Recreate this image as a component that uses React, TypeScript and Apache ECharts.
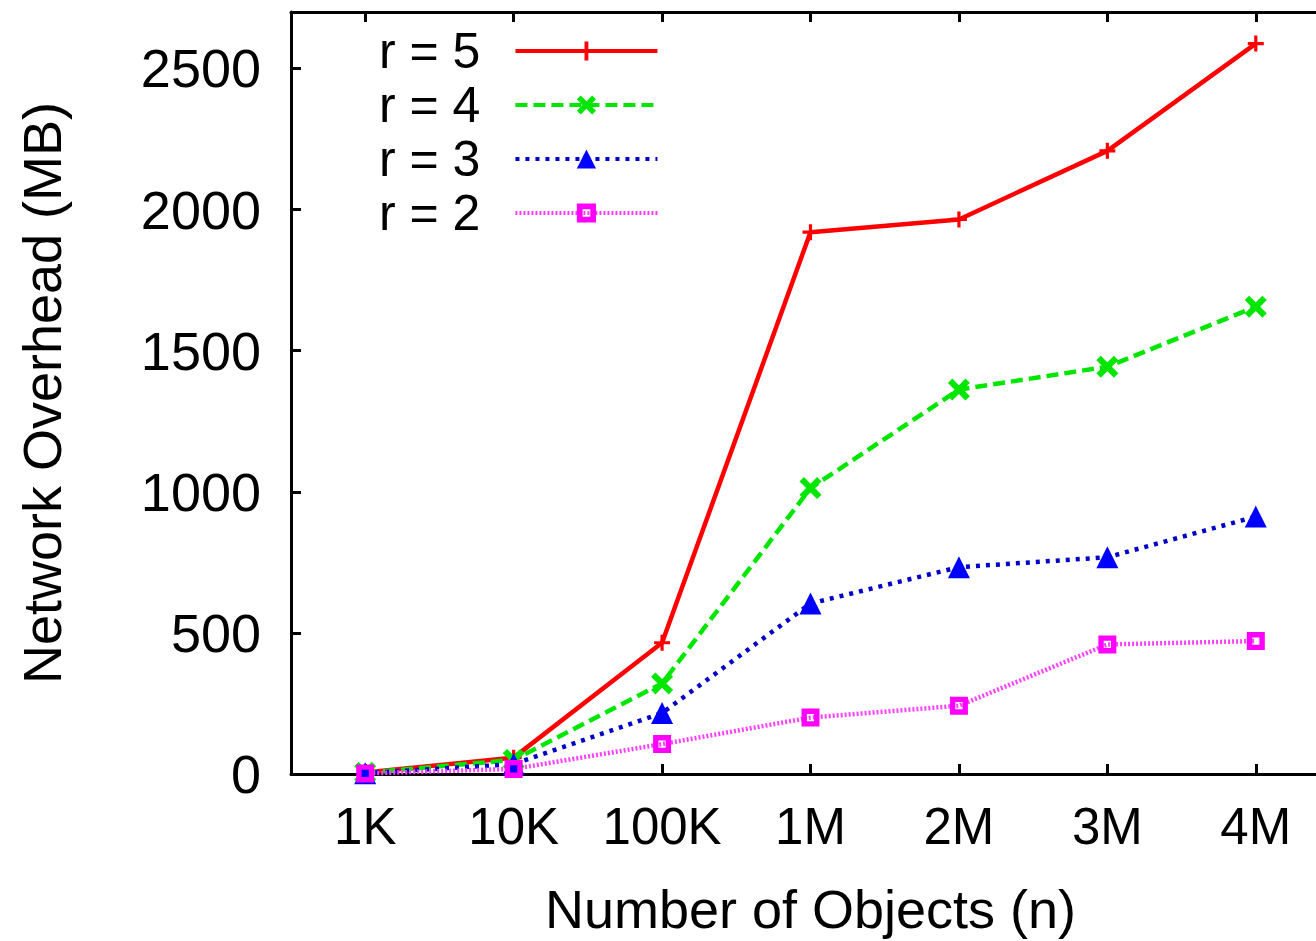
import React, { useEffect, useRef } from "react";
import * as echarts from "echarts";

const categories = ["1K", "10K", "100K", "1M", "2M", "3M", "4M"];
const seriesNames = ["r = 5", "r = 4", "r = 3", "r = 2"];
const r5 = [5, 58, 465, 1920, 1965, 2208, 2588];
const r4 = [4, 50, 321, 1013, 1362, 1443, 1656];
const r3 = [3, 35, 216, 604, 733, 768, 912];
const r2 = [2, 18, 106, 200, 242, 459, 471];
const yMin = 0;
const yMax = 2700;
const yInterval = 500;

const FONT = "Liberation Sans, Arial, Helvetica, sans-serif";

const plusPath = "path://M4,0H6V4H10V6H6V10H4V6H0V4H4Z";
const crossPath = "path://M0,2L2,0L5,3L8,0L10,2L7,5L10,8L8,10L5,7L2,10L0,8L3,5Z";
const squarePath = "path://M0,0H10V10H0Z M3,3V7H7V3Z";

export default function App() {
  const ref = useRef<HTMLDivElement>(null);
  useEffect(() => {
    if (!ref.current) return;
    const chart = echarts.init(ref.current, undefined, { renderer: "svg" });
    const axisLine = { show: true, lineStyle: { color: "#000", width: 3 } };
    const tick = { show: true, inside: true, length: 10, lineStyle: { color: "#000", width: 3 } };
    const mk = (name: string, data: number[], color: string, lineColor: string, type: any, width: number, symbol: string, size: number) => ({
      name,
      type: "line",
      data,
      xAxisIndex: 0,
      yAxisIndex: 0,
      symbol,
      symbolSize: size,
      itemStyle: { color },
      lineStyle: { color: lineColor, type, width },
      emphasis: { disabled: true },
    });
    chart.setOption({
      animation: false,
      backgroundColor: "#fff",
      textStyle: { fontFamily: FONT },
      grid: { left: 291, top: 12, right: 0, bottom: 163, containLabel: false },
      legend: {
        orient: "vertical",
        left: 374,
        top: 21,
        align: "right",
        itemWidth: 142,
        itemHeight: 24,
        itemGap: 4,
        data: seriesNames,
        lineStyle: { width: 4 },
        textStyle: { fontSize: 50, color: "#000", fontFamily: FONT, lineHeight: 49, padding: [0, 30, 0, 0] },
      },
      xAxis: [
        {
          type: "category",
          data: categories,
          position: "bottom",
          boundaryGap: true,
          axisLine,
          axisTick: { ...tick, alignWithLabel: true },
          axisLabel: { fontSize: 51, color: "#000", margin: 27, fontFamily: FONT, interval: 0, hideOverlap: false },
          splitLine: { show: false },
          name: "Number of Objects (n)",
          nameLocation: "middle",
          nameGap: 108,
          nameTextStyle: { fontSize: 54, color: "#000", fontFamily: FONT },
        },
        {
          type: "category",
          data: categories,
          position: "top",
          boundaryGap: true,
          axisLine,
          axisTick: { ...tick, alignWithLabel: true, interval: 0 },
          axisLabel: { show: false, interval: 0 },
          splitLine: { show: false },
        },
      ],
      yAxis: [
        {
          type: "value",
          min: yMin,
          max: yMax,
          interval: yInterval,
          position: "left",
          axisLine,
          axisTick: tick,
          axisLabel: { fontSize: 54, color: "#000", margin: 30, showMaxLabel: false, fontFamily: FONT, formatter: (v: number) => String(v) },
          splitLine: { show: false },
          name: "Network Overhead (MB)",
          nameLocation: "middle",
          nameGap: 222,
          nameTextStyle: { fontSize: 54, color: "#000", fontFamily: FONT },
        },
      ],
      series: [
        mk(seriesNames[0], r5, "#ff0000", "#ff0000", "solid", 4.5, plusPath, 16),
        mk(seriesNames[1], r4, "#00e600", "#00e600", [12, 6], 4.5, crossPath, 22),
        mk(seriesNames[2], r3, "#0000ff", "#0000c8", [4, 6], 4.5, "triangle", 22),
        mk(seriesNames[3], r2, "#ff00ff", "#ff40ff", [2, 2], 4.5, squarePath, 18),
      ],
    });
    return () => chart.dispose();
  }, []);
  return (
    <div style={{ position: "absolute", left: 0, top: 0, width: 1316, height: 941, overflow: "hidden", background: "#fff" }}>
      <div ref={ref} style={{ position: "absolute", left: 0, top: 0, width: 1330, height: 941 }} />
    </div>
  );
}
